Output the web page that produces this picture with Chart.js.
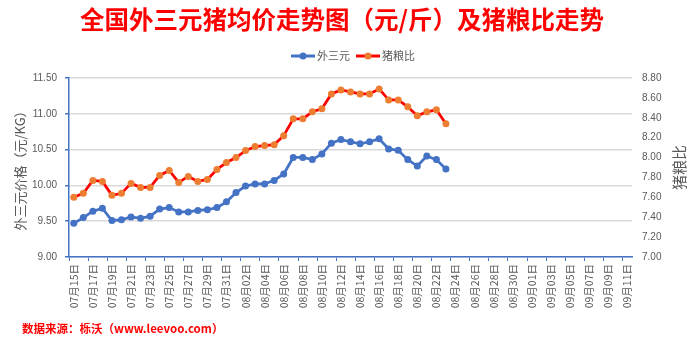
<!DOCTYPE html>
<html>
<head>
<meta charset="utf-8">
<script src="https://cdn.jsdelivr.net/npm/chart.js@4"></script>
<style>
  html, body { margin: 0; padding: 0; background: #fff; }
  #wrap { width: 700px; height: 342px; }
</style>
</head>
<body>
<div id="wrap"><canvas id="PriceChart" width="700" height="342"></canvas></div>
<script>
(function () {
    var days = [
        '07月15日', '07月16日', '07月17日', '07月18日', '07月19日', '07月20日', '07月21日', '07月22日',
        '07月23日', '07月24日', '07月25日', '07月26日', '07月27日', '07月28日', '07月29日', '07月30日',
        '07月31日', '08月01日', '08月02日', '08月03日', '08月04日', '08月05日', '08月06日', '08月07日',
        '08月08日', '08月09日', '08月10日', '08月11日', '08月12日', '08月13日', '08月14日', '08月15日',
        '08月16日', '08月17日', '08月18日', '08月19日', '08月20日', '08月21日', '08月22日', '08月23日',
        '08月24日', '08月25日', '08月26日', '08月27日', '08月28日', '08月29日', '08月30日', '08月31日',
        '09月01日', '09月02日', '09月03日', '09月04日', '09月05日', '09月06日', '09月07日', '09月08日',
        '09月09日', '09月10日', '09月11日'
    ];

    // 外三元 price, 元/KG
    var hogPrice = [
        9.47, 9.55, 9.64, 9.68, 9.51, 9.52, 9.56, 9.54, 9.57, 9.67,
        9.69, 9.63, 9.63, 9.65, 9.66, 9.69, 9.77, 9.90, 9.99, 10.02,
        10.02, 10.07, 10.16, 10.39, 10.39, 10.36, 10.44, 10.59, 10.64, 10.61,
        10.58, 10.61, 10.65, 10.51, 10.49, 10.36, 10.27, 10.41, 10.36, 10.23
    ];

    // 猪粮比
    var hogGrainRatio = [
        7.60, 7.64, 7.77, 7.76, 7.62, 7.64, 7.74, 7.70, 7.70, 7.82,
        7.87, 7.75, 7.81, 7.76, 7.78, 7.88, 7.95, 8.00, 8.07, 8.11,
        8.12, 8.13, 8.22, 8.39, 8.39, 8.46, 8.49, 8.64, 8.68, 8.66,
        8.64, 8.64, 8.69, 8.58, 8.58, 8.51, 8.42, 8.46, 8.48, 8.34
    ];

    var priceTicks = [9.0, 11.5, 0.5];   // min, max, step
    var ratioTicks = [7.0, 8.8, 0.2];

    var blue = '#4472C4';
    var red = '#FF0000';
    var orange = '#ED7D31';
    var gray = '#595959';
    var latin = '"Liberation Sans", "Noto Sans CJK SC", sans-serif';
    var cjk = '"Noto Sans CJK SC", "Liberation Sans", sans-serif';

    function drawLegendItem(ctx, x, y, lineColor, dotColor, text) {
        ctx.strokeStyle = lineColor;
        ctx.lineWidth = 3;
        ctx.beginPath();
        ctx.moveTo(x, y);
        ctx.lineTo(x + 24, y);
        ctx.stroke();
        ctx.fillStyle = dotColor;
        ctx.beginPath();
        ctx.arc(x + 12, y, 3.5, 0, Math.PI * 2);
        ctx.fill();
        ctx.fillStyle = gray;
        ctx.textAlign = 'left';
        ctx.textBaseline = 'middle';
        ctx.fillText(text, x + 26, y);
    }

    // title, legend, axis titles and source line
    var decorations = {
        id: 'decorations',
        afterDraw: function (chart) {
            var ctx = chart.ctx;
            var area = chart.chartArea;
            ctx.save();

            ctx.fillStyle = red;
            ctx.font = 'bold 24.5px ' + cjk;
            ctx.textAlign = 'center';
            ctx.textBaseline = 'middle';
            ctx.fillText('全国外三元猪均价走势图（元/斤）及猪粮比走势', 342, 20);

            ctx.font = '11px ' + cjk;
            drawLegendItem(ctx, 291, 56, blue, blue, '外三元');
            drawLegendItem(ctx, 356, 56, red, orange, '猪粮比');

            ctx.fillStyle = gray;
            ctx.font = '13px ' + cjk;
            ctx.textAlign = 'center';
            ctx.textBaseline = 'middle';
            ctx.save();
            ctx.translate(20, (area.top + area.bottom) / 2);
            ctx.rotate(-Math.PI / 2);
            ctx.fillText('外三元价格（元/KG）', 0, 0);
            ctx.restore();

            ctx.font = '15px ' + cjk;
            ctx.save();
            ctx.translate(679, (area.top + area.bottom) / 2);
            ctx.rotate(-Math.PI / 2);
            ctx.fillText('猪粮比', 0, 0);
            ctx.restore();

            ctx.fillStyle = red;
            ctx.font = 'bold 11.5px ' + cjk;
            ctx.textAlign = 'left';
            ctx.fillText('数据来源：栎沃（www.leevoo.com）', 22, 329);

            ctx.restore();
        }
    };

    new Chart(document.getElementById('PriceChart'), {
        type: 'line',
        data: {
            labels: days,
            datasets: [{
                label: '外三元',
                data: hogPrice,
                yAxisID: 'y',
                borderColor: blue,
                backgroundColor: blue,
                borderWidth: 2.75,
                pointRadius: 3.5,
                pointBorderWidth: 0,
                tension: 0
            }, {
                label: '猪粮比',
                data: hogGrainRatio,
                yAxisID: 'y1',
                borderColor: red,
                backgroundColor: orange,
                borderWidth: 2.75,
                pointRadius: 3.5,
                pointBorderWidth: 0,
                tension: 0
            }]
        },
        options: {
            responsive: false,
            animation: false,
            layout: { padding: { top: 78, left: 0, right: 0, bottom: 0 } },
            plugins: {
                legend: { display: false },
                title: { display: false },
                tooltip: { enabled: false }
            },
            scales: {
                x: {
                    offset: true,
                    afterFit: function (scale) { scale.height = 85; },
                    grid: {
                        offset: true,
                        drawOnChartArea: false,
                        tickLength: 4,
                        color: function (c) { return c.index % 2 === 0 ? blue : 'rgba(0,0,0,0)'; }
                    },
                    border: { color: blue, width: 1.5 },
                    ticks: {
                        autoSkip: false,
                        minRotation: 90,
                        maxRotation: 90,
                        padding: 3,
                        color: gray,
                        font: { size: 10.5, family: cjk },
                        callback: function (v, i) { return i % 2 === 0 ? days[i] : ''; }
                    }
                },
                y: {
                    position: 'left',
                    min: priceTicks[0],
                    max: priceTicks[1],
                    afterFit: function (scale) { scale.width = 69; },
                    grid: { color: '#D9D9D9', lineWidth: 1.5, tickColor: blue, tickLength: 4 },
                    border: { color: blue, width: 1.5 },
                    ticks: {
                        stepSize: priceTicks[2],
                        padding: 8,
                        color: gray,
                        font: { size: 10, family: latin },
                        callback: function (v) { return v.toFixed(2); }
                    }
                },
                y1: {
                    position: 'right',
                    min: ratioTicks[0],
                    max: ratioTicks[1],
                    afterFit: function (scale) { scale.width = 68; },
                    grid: { drawOnChartArea: false, drawTicks: false },
                    border: { display: false },
                    ticks: {
                        stepSize: ratioTicks[2],
                        padding: 10,
                        color: gray,
                        font: { size: 10, family: latin },
                        callback: function (v) { return v.toFixed(2); }
                    }
                }
            }
        },
        plugins: [decorations]
    });
})();
</script>
</body>
</html>
